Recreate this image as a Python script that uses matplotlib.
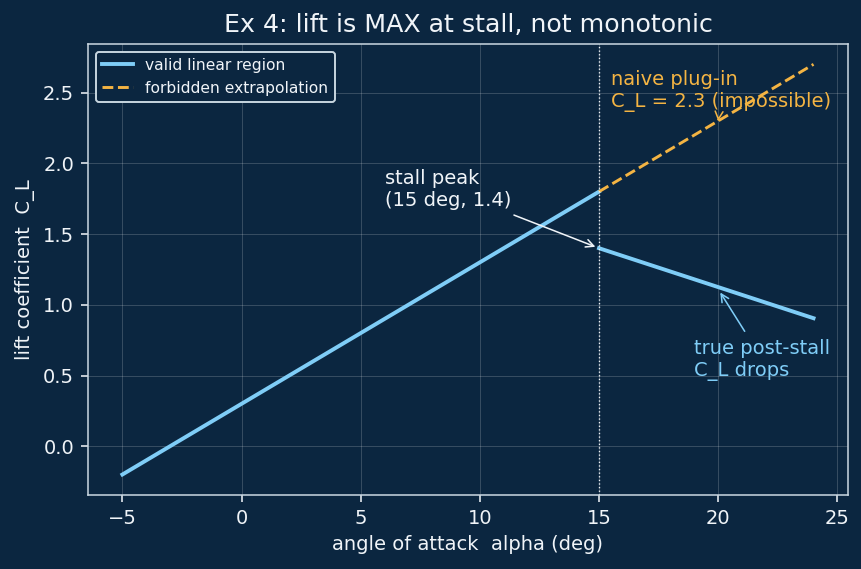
import matplotlib
matplotlib.use("Agg")
import matplotlib.pyplot as plt

# linear (valid) region
alpha_lin = [-5, 15]
cl_lin = [-0.2, 1.8]
# forbidden extrapolation
alpha_ext = [15, 24]
cl_ext = [1.8, 2.7]
# true post-stall
alpha_post = [15, 24]
cl_post = [1.4, 0.905]

BG = "#0b2640"
BLUE = "#7fcdf7"
ORANGE = "#f4b443"
FG = "#f0f4f8"

fig, ax = plt.subplots(figsize=(861 / 140, 569 / 140), dpi=140)
fig.patch.set_facecolor(BG)
ax.set_facecolor(BG)

ax.plot(alpha_lin, cl_lin, color=BLUE, lw=2, label="valid linear region")
ax.plot(alpha_ext, cl_ext, color=ORANGE, lw=1.5, ls="--", label="forbidden extrapolation")
ax.plot(alpha_post, cl_post, color=BLUE, lw=2)
ax.axvline(15, color=FG, ls=":", lw=0.7)

ax.annotate("stall peak\n(15 deg, 1.4)", xy=(15, 1.4), xytext=(6, 1.7),
            color=FG, fontsize=10,
            arrowprops=dict(arrowstyle="->", color=FG, lw=0.8))
ax.annotate("naive plug-in\nC_L = 2.3 (impossible)", xy=(20, 2.3), xytext=(15.5, 2.4),
            color=ORANGE, fontsize=10,
            arrowprops=dict(arrowstyle="->", color=ORANGE, lw=0.8))
ax.annotate("true post-stall\nC_L drops", xy=(20, 1.11), xytext=(19, 0.5),
            color=BLUE, fontsize=10,
            arrowprops=dict(arrowstyle="->", color=BLUE, lw=0.8))

ax.grid(True, color="white", alpha=0.18, lw=0.5)
for s in ax.spines.values():
    s.set_color("#c8d6e0")
ax.tick_params(colors=FG, labelsize=10)
ax.set_xlabel("angle of attack  alpha (deg)", color=FG, fontsize=10)
ax.set_ylabel("lift coefficient  C_L", color=FG, fontsize=10)
ax.set_title("Ex 4: lift is MAX at stall, not monotonic", color=FG, fontsize=13)

leg = ax.legend(loc="upper left", fontsize=8, facecolor=BG, edgecolor="#c8d6e0",
                framealpha=1)
for t in leg.get_texts():
    t.set_color(FG)

fig.subplots_adjust(left=0.102, right=0.985, top=0.923, bottom=0.13)
fig.savefig("out.png", facecolor=BG)
